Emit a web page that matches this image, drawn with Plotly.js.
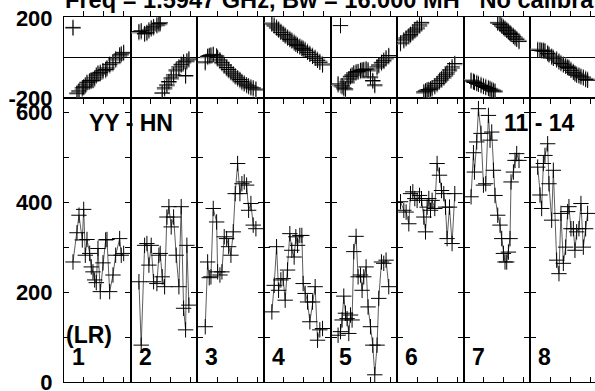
<!DOCTYPE html>
<html>
<head>
<meta charset="utf-8">
<script src="https://cdn.plot.ly/plotly-3.0.1.min.js"></script>
<style>
html, body { margin: 0; padding: 0; overflow: hidden; background: #fff; }
#chart { width: 600px; height: 391px; }
</style>
</head>
<body>
<div id="chart"></div>
<script>
// ---- data (times in minutes within each scan panel) ----
const panelLabels = ['1', '2', '3', '4', '5', '6', '7', '8'];
const yAmpTicks = [0, 100, 200, 300, 400, 500, 600];
const yAmpTickText = ['0', '', '200', '', '400', '', '600'];
const yPhaseTicks = [-200, 0, 200];
const yPhaseTickText = ['-200', '', '200'];

const times = [
  [9,13,15,18.3,19.7,21.3,23,25.7,27.3,29,30.7,32.3,34,36.3,39,41.7,43,45.7,49,51.7,55.7,57.3,59.7],
  [8.3,10.6,14,16.3,18.3,20.6,23,26.3,28.3,29.6,31.6,34,36.3,38.3,40.6,43,45.6,48.3,50.6,53,55,56.3,58.3],
  [8,10.4,12,13.7,16,19.4,20.4,22.7,24.7,27,29.4,31.4,33.7,36,38,40.4,42.7,44.7,47,49.4,51.4,53.7,56,58.7],
  [8,10.3,12.7,14.7,17,19.3,21.3,23.7,26,28,30.3,32,33.7,36,38,39.3,41.3,43.7,46,48.7,51.3,53.7,56,58.7],
  [7.6,10,11.6,13.3,15,16.6,18.3,20,21.6,23.3,25.6,27.6,30,31.6,33.3,35.6,37.6,40,42.3,44.3,46.6,48.3,51,53.3,55.6,58.3],
  [3.4,6.7,9,11.7,13.4,15.7,17.7,20,22.4,24.4,26.7,28.4,30,31.7,33.4,35,37.7,40,42.4,44.4,46.7,48.4,50,52.4,55,57.7],
  [7.3,9.7,10.7,13,14.7,17.3,19.7,22,24.7,26.3,28,29.7,31.3,34,36.3,38,39.7,41.3,43,44.7,46.3,47.3,49.7,51.3,53,55.3],
  [7.3,9.6,11.3,13,14.6,17.3,18.6,21.3,23,26.3,28.6,30.6,33,35.3,37.3,38.6,40.6,43,44.6,46.3,48.6,50.6,53,55.3,57.3]
];

const amplitude = [
  [267,332,371,316,384,282,317,286,256,245,227,221,297,201,265,316,317,201,238,282,319,282,286],
  [223,82,304,308,260,304,223,219,282,286,234,212,367,390,345,367,282,212,390,164,116,304,171],
  [123,267,232,234,386,356,245,238,245,323,319,301,282,334,419,486,419,441,445,438,382,397,349,341],
  [156,215,301,204,227,230,182,249,330,293,278,323,304,326,326,219,197,178,134,178,212,93,116,119],
  [104,112,138,191,153,141,108,149,138,290,324,234,238,204,234,256,167,123,82,16,82,186,267,264,271,212],
  [401,382,378,352,419,423,408,404,415,408,367,334,389,408,382,404,386,486,460,426,419,389,319,389,308,419],
  [412,510,467,534,608,553,438,441,593,538,556,471,415,371,349,319,286,267,267,289,319,445,467,493,508,493],
  [478,416,386,486,504,530,441,360,471,271,241,375,264,300,379,390,341,341,293,334,341,397,300,341,375]
];

const phaseA = [
  [153,-176,-165,-150,-145,-135,-122,-115,-113,-112,-100,-86,-76,-72,-64,-58,-50,-32,-22,-5,15,20,28],
  [132,136,122,128,140,150,156,165,172,176,-175,-150,-135,-118,-100,-85,-60,-45,-32,-20,-88,-15,-5],
  [-20,8,12,15,18,10,2,-10,-22,-35,-48,-58,-70,-80,-90,-100,-108,-118,-126,-135,-140,-146,-150,-156],
  [170,160,150,140,128,118,110,100,92,85,75,68,62,55,48,44,38,28,18,8,-2,-12,-22,-35],
  [-130,162,-140,-150,-155,-120,-105,-92,-85,-75,-70,-68,-62,-60,-58,-55,-60,-95,-113,-135,-45,-35,-22,-12,0,12],
  [75,90,100,110,118,130,140,150,165,178,-170,-165,-160,-158,-155,-150,-140,-128,-115,-105,-95,-85,-75,-60,-45,-28],
  [-115,-120,-123,-128,-132,-138,-143,-148,-153,-157,-162,-166,-170,175,168,160,152,145,138,130,123,118,108,100,93,82],
  [38,38,36,35,33,22,15,5,-2,-10,-20,-28,-35,-42,-48,-52,-62,-72,-80,-86,-90,-95,-100,-108,-112]
];

const phaseB = [
  [148,-180,-170,-158,-150,-142,-128,-120,-118,-115,-108,-92,-82,-78,-70,-64,-56,-40,-28,-12,8,14,22],
  [126,130,118,122,134,144,150,160,166,170,-178,-156,-140,-124,-106,-92,-66,-52,-38,-26,-92,-20,-10],
  [-25,2,6,10,14,6,-4,-16,-28,-40,-54,-64,-76,-86,-96,-106,-114,-124,-132,-140,-146,-152,-156,-162],
  [176,166,156,146,134,124,116,106,98,90,82,74,68,60,54,50,44,34,24,14,4,-6,-16,-28],
  [-136,-140,-146,-156,-160,-126,-110,-98,-90,-80,-76,-72,-68,-66,-62,-60,-66,-100,-118,-140,-52,-40,-28,-18,-6,6],
  [70,84,94,104,112,124,134,144,158,172,-176,-170,-166,-164,-160,-156,-146,-134,-122,-112,-102,-92,-82,-66,-52,-34],
  [-110,-114,-118,-122,-126,-132,-138,-142,-148,-152,-156,-160,-164,178,172,165,158,150,143,136,128,123,114,106,98,88],
  [44,42,40,40,38,28,20,10,4,-4,-14,-22,-30,-36,-42,-46,-56,-66,-74,-80,-84,-90,-94,-102,-106]
];

// ---- figure ----
const FONT = 'Liberation Sans, Arial, Helvetica, sans-serif';
const nP = panelLabels.length;
const traces = [];
for (let i = 0; i < nP; i++) {
  const xa = i === 0 ? 'x' : 'x' + (i + 1);
  traces.push({
    x: times[i], y: phaseB[i], xaxis: xa, yaxis: 'y2', type: 'scatter', mode: 'markers',
    marker: {symbol: 'cross-thin', size: 11, line: {width: 1.2, color: '#8a8a8a'}},
    hoverinfo: 'skip'
  });
  traces.push({
    x: times[i], y: phaseA[i], xaxis: xa, yaxis: 'y2', type: 'scatter', mode: 'markers',
    marker: {symbol: 'cross-thin', size: 11, line: {width: 1, color: '#000'}},
    hoverinfo: 'skip'
  });
  traces.push({
    x: times[i], y: amplitude[i], xaxis: xa, yaxis: 'y', type: 'scatter', mode: 'lines+markers',
    line: {color: '#333', width: 0.8},
    marker: {symbol: 'cross-thin', size: 11, line: {width: 1, color: '#000'}},
    hoverinfo: 'skip'
  });
}

const W = 600, H = 391;
const mL = 64, mR = 3, mT = 16.5, mB = 9;
const plotW = W - mL - mR, plotH = H - mT - mB;
const splitY = 97.5; // pixel y of the boundary between the two rows
const ampTop = (H - mB - splitY) / plotH;
const NB = '\u00A0';

const layout = {
  width: W, height: H,
  margin: {l: mL, r: mR, t: mT, b: mB, pad: 0},
  paper_bgcolor: '#fff', plot_bgcolor: '#fff',
  showlegend: false,
  font: {family: FONT, size: 22, color: '#000', weight: 'bold'},
  title: {
    text: 'Freq = 1.5947 GHz, Bw = 16.000 MH' + NB + NB + NB + 'No calibration',
    font: {family: FONT, size: 23.6, color: '#000', weight: 'bold'},
    xref: 'container', yref: 'container',
    x: 65 / W, xanchor: 'left',
    y: 1 - 7.5 / H, yanchor: 'bottom'
  },
  yaxis: {
    domain: [0, ampTop], range: [0, 632], anchor: 'x',
    showline: true, linecolor: '#000', linewidth: 1, mirror: 'allticks',
    ticks: 'inside', ticklen: 5, tickwidth: 1, tickcolor: '#000',
    tickvals: yAmpTicks, ticktext: yAmpTickText, ticklabelstandoff: 6,
    ticklabeloverflow: 'allow',
    showgrid: false, zeroline: false,
    tickfont: {family: FONT, size: 22, color: '#000', weight: 'bold'}
  },
  yaxis2: {
    domain: [ampTop, 1], range: [-200, 205], anchor: 'x',
    showline: true, linecolor: '#000', linewidth: 1, mirror: 'allticks',
    ticks: 'inside', ticklen: 5, tickwidth: 1, tickcolor: '#000',
    tickvals: yPhaseTicks, ticktext: yPhaseTickText, ticklabelstandoff: 6,
    ticklabeloverflow: 'allow',
    showgrid: false, zeroline: true, zerolinecolor: '#000', zerolinewidth: 1,
    tickfont: {family: FONT, size: 22, color: '#000', weight: 'bold'}
  },
  annotations: []
};

for (let i = 0; i < nP; i++) {
  const key = i === 0 ? 'xaxis' : 'xaxis' + (i + 1);
  layout[key] = {
    domain: [i / nP, (i + 1) / nP], range: [0, 66.67], anchor: 'y',
    showline: true, linecolor: '#000', linewidth: 1, mirror: 'allticks',
    ticks: 'inside', ticklen: 5, tickwidth: 1, tickcolor: '#000',
    tickvals: [20, 40, 60], showticklabels: false,
    showgrid: false, zeroline: false
  };
  layout.annotations.push({
    text: panelLabels[i], xref: 'paper', yref: 'paper',
    x: (i * plotW / nP + 6) / plotW, xanchor: 'left',
    y: (H - mB - 356.7) / plotH, yanchor: 'middle',
    showarrow: false,
    font: {family: FONT, size: 23, color: '#000', weight: 'bold'}
  });
}

const annFont = {family: FONT, size: 23, color: '#000', weight: 'bold'};
layout.annotations.push({
  text: 'YY - HN', xref: 'paper', yref: 'paper',
  x: (130.5 - mL) / plotW, xanchor: 'center',
  y: (H - mB - 123) / plotH, yanchor: 'middle', showarrow: false, font: annFont
});
layout.annotations.push({
  text: '11 - 14', xref: 'paper', yref: 'paper',
  x: (539 - mL) / plotW, xanchor: 'center',
  y: (H - mB - 123) / plotH, yanchor: 'middle', showarrow: false, font: annFont
});
layout.annotations.push({
  text: '(LR)', xref: 'paper', yref: 'paper',
  x: 0, xanchor: 'left',
  y: (H - mB - 335) / plotH, yanchor: 'middle', showarrow: false, font: annFont
});

Plotly.newPlot('chart', traces, layout, {displayModeBar: false, staticPlot: true});
</script>
</body>
</html>
